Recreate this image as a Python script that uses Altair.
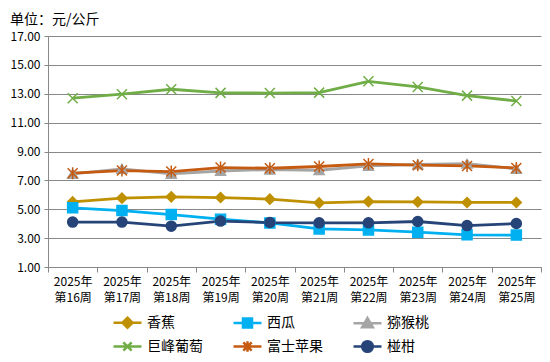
import altair as alt
import pandas as pd

weeks = ["2025年第16周", "2025年第17周", "2025年第18周", "2025年第19周", "2025年第20周",
         "2025年第21周", "2025年第22周", "2025年第23周", "2025年第24周", "2025年第25周"]
series_names = ["香蕉", "西瓜", "猕猴桃", "巨峰葡萄", "富士苹果", "椪柑"]
banana = [5.51, 5.77, 5.86, 5.81, 5.70, 5.44, 5.53, 5.51, 5.47, 5.47]
watermelon = [5.10, 4.91, 4.63, 4.31, 4.05, 3.64, 3.57, 3.41, 3.23, 3.21]
kiwi = [7.45, 7.80, 7.45, 7.65, 7.75, 7.70, 8.00, 8.10, 8.15, 7.80]
grape = [12.69, 12.97, 13.31, 13.06, 13.05, 13.08, 13.86, 13.47, 12.87, 12.50]
apple = [7.50, 7.68, 7.61, 7.89, 7.84, 7.96, 8.14, 8.05, 8.00, 7.86]
ponkan = [4.11, 4.11, 3.83, 4.18, 4.08, 4.06, 4.06, 4.15, 3.87, 4.01]
colors = ["#BF9000", "#00B0F0", "#A5A5A5", "#70AD47", "#C55A11", "#264478"]
y_ticks = [1, 3, 5, 7, 9, 11, 13, 15, 17]

values = [banana, watermelon, kiwi, grape, apple, ponkan]
rows = []
for name, vals in zip(series_names, values):
    for w, v in zip(weeks, vals):
        rows.append({"week": w, "price": v, "fruit": name, "fruit2": name})
df = pd.DataFrame(rows)

FONT = "Noto Sans CJK SC"

point_shapes = [
    "diamond", "square", "triangle-up",
    "M-1,-1L1,1M-1,1L1,-1",
    "M-1,-1L1,1M-1,1L1,-1M0,-1.2V1.2",
    "circle",
]
legend_shapes = [
    "M-2.33,0H2.33M0,-0.84L0.84,0L0,0.84L-0.84,0Z",
    "M-2.33,0H2.33M-0.75,-0.75H0.75V0.75H-0.75Z",
    "M-2.33,0H2.33M0,-0.84L0.89,0.7L-0.89,0.7Z",
    "M-2.33,0H2.33M-0.7,-0.7L0.7,0.7M-0.7,0.7L0.7,-0.7",
    "M-2.33,0H2.33M-0.7,-0.7L0.7,0.7M-0.7,0.7L0.7,-0.7M0,-0.89V0.89",
    "M-2.33,0H2.33M-0.89,0A0.89,0.89 0 1,0 0.89,0A0.89,0.89 0 1,0 -0.89,0Z",
]

x_enc = alt.X("week:N", sort=weeks, title=None,
              scale=alt.Scale(paddingInner=0, paddingOuter=0),
              axis=alt.Axis(labelAngle=0, tickBand="extent", labelFont=FONT, labelFontSize=12,
                            labelColor="#000", domainColor="#888", tickColor="#888",
                            tickSize=5, labelPadding=4, grid=False,
                            labelExpr="[slice(datum.label,0,5), slice(datum.label,5)]",
                            labelLineHeight=16))
y_enc = alt.Y("price:Q", title=None,
              scale=alt.Scale(domain=[1, 17], nice=False, zero=False),
              axis=alt.Axis(values=y_ticks, format=".2f", labelFont=FONT, labelFontSize=12,
                            labelColor="#000", domainColor="#888", tickColor="#888",
                            tickSize=4, labelPadding=4, gridColor="#888", gridWidth=1))

color_scale = alt.Scale(domain=series_names, range=colors)

lines = alt.Chart(df).mark_line(strokeWidth=2.8).encode(
    x=x_enc, y=y_enc,
    color=alt.Color("fruit:N", scale=color_scale, legend=None),
)

points = alt.Chart(df).mark_point(size=100, strokeWidth=1.5, opacity=1).encode(
    x=x_enc, y=y_enc,
    fill=alt.Fill("fruit:N", scale=color_scale, legend=None),
    stroke=alt.Stroke("fruit:N", scale=color_scale, legend=None),
    shape=alt.Shape("fruit:N", scale=alt.Scale(domain=series_names, range=point_shapes), legend=None),
)

legend_layer = alt.Chart(df).transform_filter("false").mark_point(size=144, strokeWidth=2.5, opacity=1).encode(
    x=x_enc, y=y_enc,
    fill=alt.Fill("fruit2:N", scale=alt.Scale(domain=series_names, range=colors), title=None),
    stroke=alt.Stroke("fruit2:N", scale=alt.Scale(domain=series_names, range=colors), title=None),
    shape=alt.Shape("fruit2:N", scale=alt.Scale(domain=series_names, range=legend_shapes),
                    title=None,
                    legend=alt.Legend(orient="none", legendX=72, legendY=279, columns=3,
                                      direction="horizontal",
                                      columnPadding=25, rowPadding=3, labelFont=FONT,
                                      labelFontSize=14, labelColor="#000", labelOffset=12,
                                      symbolSize=144, symbolStrokeWidth=2.5)),
)

chart = alt.layer(lines, points, legend_layer).resolve_scale(
    fill="independent", stroke="independent", shape="independent"
).properties(
    width=493, height=231,
    autosize=alt.AutoSizeParams(type="none"),
    padding={"left": 40, "top": 28, "right": 1, "bottom": 87},
    title=alt.TitleParams("单位：元/公斤", anchor="start", dx=0, offset=3,
                          font=FONT, fontSize=14, fontWeight="normal", color="#000"),
).configure_view(stroke=None)

chart.save("out.html", embed_options={"renderer": "svg", "actions": False})
